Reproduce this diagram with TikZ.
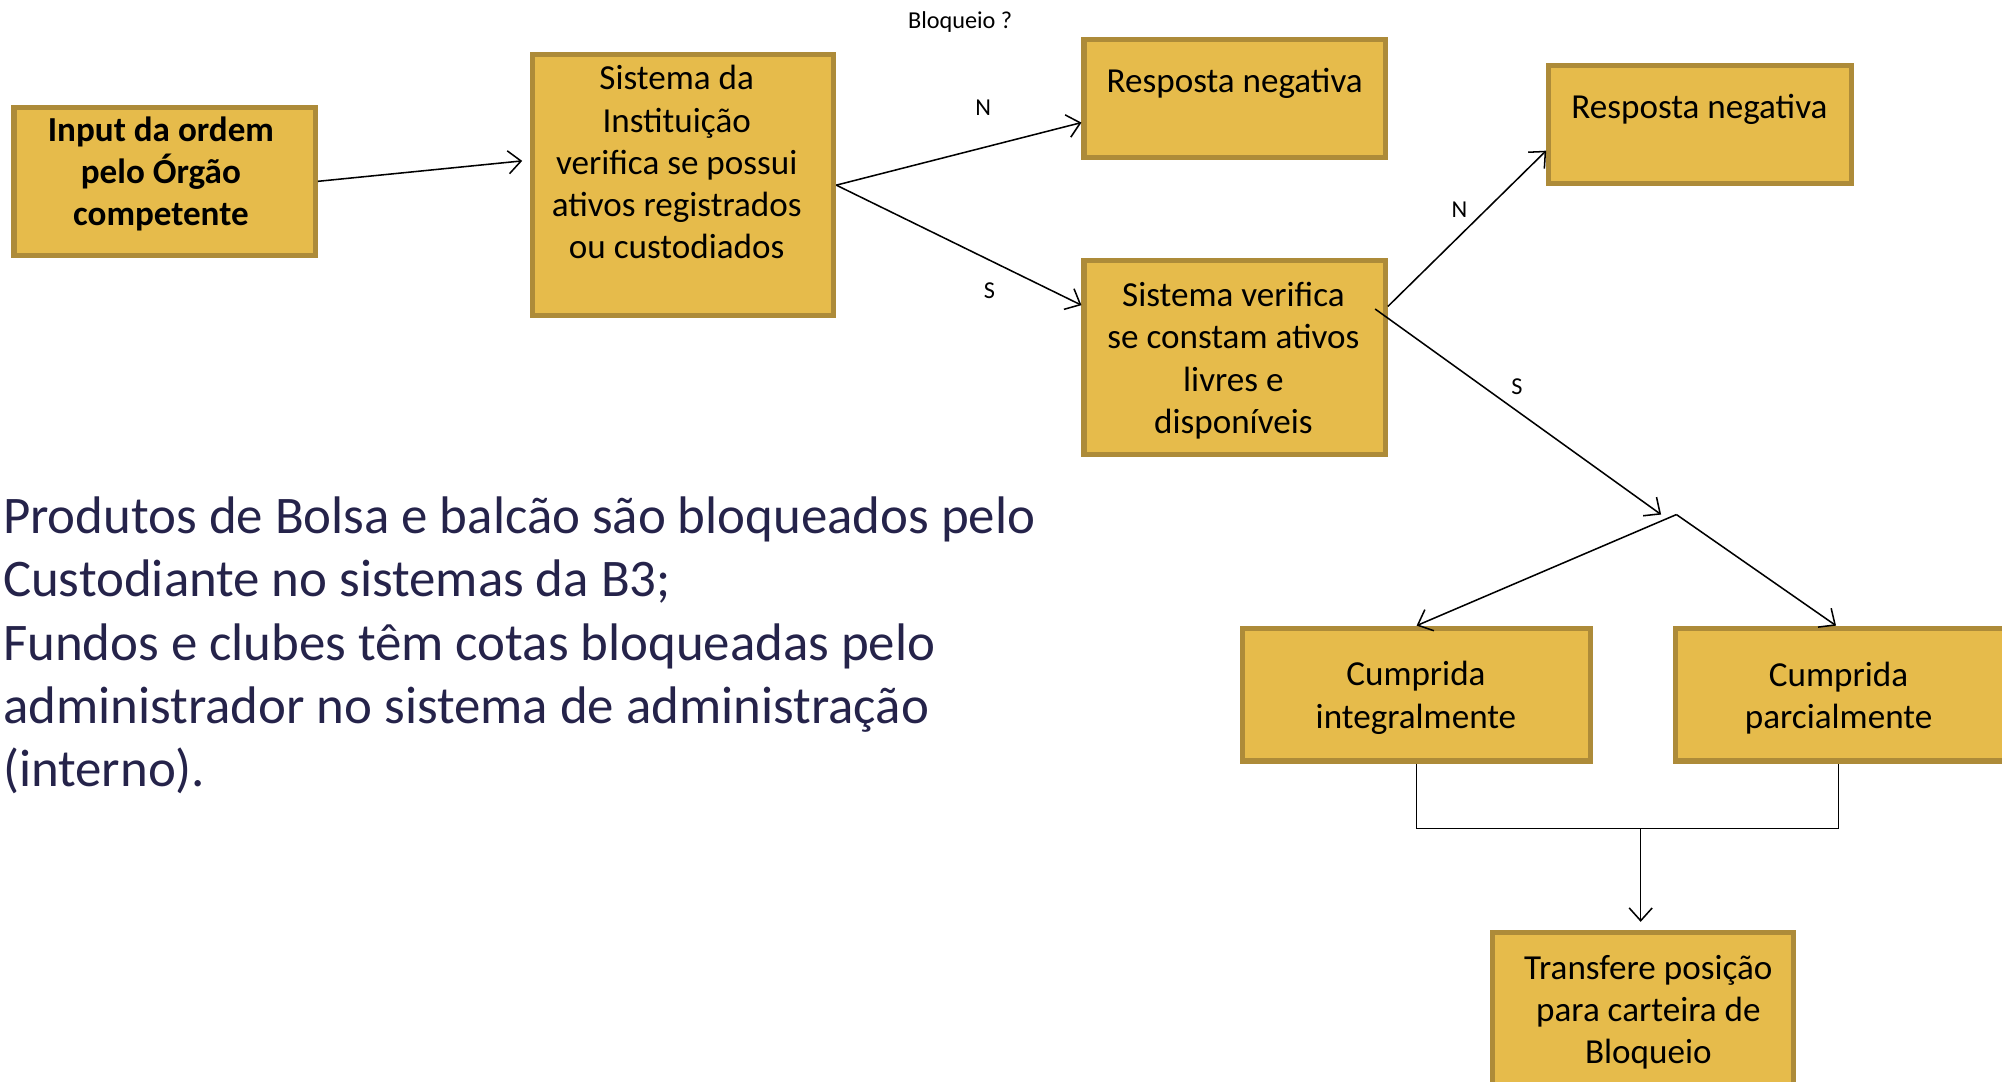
\documentclass[tikz,border=0pt]{standalone}
\usepackage{fontspec}
\setmainfont{Carlito}
\usepackage{tikz}
\usetikzlibrary{arrows.meta,positioning}
\definecolor{boxfill}{HTML}{E6BB4B}
\definecolor{boxline}{HTML}{AD8B39}
\definecolor{notecol}{HTML}{25234A}
\tikzset{
  blk/.style={rectangle, draw=boxline, fill=boxfill, line width=2pt},
  txt/.style={align=center, inner sep=0pt, font=\fontsize{13.75}{16.5}\selectfont},
  txtb/.style={txt, font=\fontsize{13.75}{16.5}\selectfont\bfseries},
  lbl/.style={inner sep=0pt, font=\fontsize{9.5}{11}\selectfont},
  flow/.style={line width=0.6pt, -{Straight Barb[length=5pt,width=9pt]}},
  wire/.style={line width=0.6pt}
}
\begin{document}
\begin{tikzpicture}[x=0.5pt,y=-0.5pt]
\useasboundingbox (0,0) rectangle (1568,847.4);
\foreach \n/\x/\y/\w/\h in
{ordem/129/142/118/58, inst/535/145/118/102, neg1/967/77/118/46,
 livres/967/280/118/76, neg2/1331.5/97.5/118.5/46.5,
 integral/1109.5/544/136.5/52, parcial/1446/544/134/52, transf/1287/795/118/65}
\node[blk, minimum width=\w pt, minimum height=\h pt] (\n) at (\x,\y) {};
\node[txtb] (ordem-t) at (126,136) {Input da ordem\\pelo Órgão\\competente};
\node[txt] (inst-t) at (530,127) {Sistema da\\Instituição\\verifica se possui\\ativos registrados\\ou custodiados};
\node[txt] (neg1-t) at (967,65) {Resposta negativa};
\node[txt] (livres-t) at (966,282.5) {Sistema verifica\\se constam ativos\\livres e\\disponíveis};
\node[txt] (neg2-t) at (1331,86) {Resposta negativa};
\node[txt] (integral-t) at (1109,546.5) {Cumprida\\integralmente};
\node[txt] (parcial-t) at (1440,547) {Cumprida\\parcialmente};
\node[txt] (transf-t) at (1291,793) {Transfere posição\\para carteira de\\Bloqueio};
% rotulos
\node[lbl] (bloq) at (752,17) {Bloqueio ?};
\node[lbl] (n1) at (770,84) {N};
\node[lbl] (s1) at (775,228) {S};
\node[lbl] (n2) at (1143,164) {N};
\node[lbl] (s2) at (1188,303) {S};
\coordinate (fork) at (1313,403);
\coordinate (join) at (1285,649);
\draw[flow] (ordem.east) -- ([xshift=-3pt,yshift=9.5pt]inst.west);
\draw[flow] (inst.east) -- ([yshift=-9.5pt]neg1.west);
\draw[flow] (inst.east) -- ([yshift=20.5pt]livres.west);
\draw[flow] ([yshift=20pt]livres.east) -- ([yshift=-10.25pt]neg2.west);
\draw[flow] ([xshift=-5pt,yshift=19pt]livres.east) -- ([xshift=-6pt]fork);
\draw[flow] (fork) -- (integral.north);
\draw[flow] (fork) -- ([xshift=-4pt]parcial.north);
\draw[wire] (integral.south) |- (join) -| ([xshift=-3pt]parcial.south);
\draw[flow] (join) -- ++(0,73);
\node[anchor=base west, align=left, inner sep=0pt, text=notecol,
  font=\fontsize{20.7}{24.75}\selectfont] (nota) at (2,616)
  {Produtos de Bolsa e balcão são bloqueados pelo\\Custodiante no sistemas da B3;\\Fundos e clubes têm cotas bloqueadas pelo\\administrador no sistema de administração\\(interno).};
\end{tikzpicture}
\end{document}
